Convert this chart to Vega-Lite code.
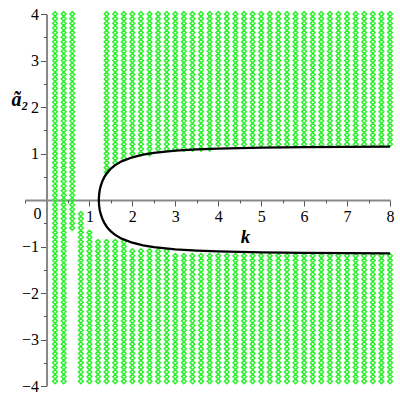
{
"$schema":"https://vega.github.io/schema/vega-lite/v6.json",
"width":365,"height":372,
"autosize":{"type":"none"},
"padding":{"left":25,"top":14,"right":10,"bottom":14},
"background":"white",
"config":{"view":{"stroke":null}},
"resolve":{"axis":{"x":"independent","y":"independent"}},
"datasets":{
"origin":[{"k":0,"a":0,"t":"0"}],
"curve":[
{"i":1,"k":8,"a":1.146},{"i":2,"k":7,"a":1.142},{"i":3,"k":6,"a":1.136},{"i":4,"k":5,"a":1.125},{"i":5,"k":4,"a":1.105},{"i":6,"k":3.5,"a":1.087},{"i":7,"k":3,"a":1.06},{"i":8,"k":2.5,"a":1.012},{"i":9,"k":2.25,"a":0.975},{"i":10,"k":2,"a":0.919},{"i":11,"k":1.75,"a":0.832},{"i":12,"k":1.6,"a":0.75},{"i":13,"k":1.5,"a":0.675},{"i":14,"k":1.45,"a":0.627},{"i":15,"k":1.4,"a":0.569},{"i":16,"k":1.35,"a":0.497},{"i":17,"k":1.3,"a":0.401},{"i":18,"k":1.27,"a":0.322},{"i":19,"k":1.25,"a":0.253},{"i":20,"k":1.24,"a":0.208},{"i":21,"k":1.23,"a":0.148},{"i":22,"k":1.225,"a":0.105},{"i":23,"k":1.222,"a":0.066},{"i":24,"k":1.2205,"a":0.033},{"i":25,"k":1.22,"a":0},
{"i":26,"k":1.2205,"a":-0.033},{"i":27,"k":1.222,"a":-0.066},{"i":28,"k":1.225,"a":-0.105},{"i":29,"k":1.23,"a":-0.148},{"i":30,"k":1.24,"a":-0.208},{"i":31,"k":1.25,"a":-0.253},{"i":32,"k":1.27,"a":-0.322},{"i":33,"k":1.3,"a":-0.401},{"i":34,"k":1.35,"a":-0.497},{"i":35,"k":1.4,"a":-0.569},{"i":36,"k":1.45,"a":-0.627},{"i":37,"k":1.5,"a":-0.675},{"i":38,"k":1.6,"a":-0.75},{"i":39,"k":1.75,"a":-0.832},{"i":40,"k":2,"a":-0.919},{"i":41,"k":2.25,"a":-0.975},{"i":42,"k":2.5,"a":-1.012},{"i":43,"k":3,"a":-1.06},{"i":44,"k":3.5,"a":-1.087},{"i":45,"k":4,"a":-1.105},{"i":46,"k":5,"a":-1.125},{"i":47,"k":6,"a":-1.136},{"i":48,"k":7,"a":-1.142},{"i":49,"k":8,"a":-1.146}
],
"pts":[
{"k":0.2,"a":4},{"k":0.2,"a":3.9},{"k":0.2,"a":3.8},{"k":0.2,"a":3.7},{"k":0.2,"a":3.6},{"k":0.2,"a":3.5},{"k":0.2,"a":3.4},{"k":0.2,"a":3.3},{"k":0.2,"a":3.2},{"k":0.2,"a":3.1},{"k":0.2,"a":3},{"k":0.2,"a":2.9},{"k":0.2,"a":2.8},{"k":0.2,"a":2.7},{"k":0.2,"a":2.6},{"k":0.2,"a":2.5},{"k":0.2,"a":2.4},{"k":0.2,"a":2.3},{"k":0.2,"a":2.2},{"k":0.2,"a":2.1},{"k":0.2,"a":2},{"k":0.2,"a":1.9},{"k":0.2,"a":1.8},{"k":0.2,"a":1.7},{"k":0.2,"a":1.6},{"k":0.2,"a":1.5},{"k":0.2,"a":1.4},{"k":0.2,"a":1.3},{"k":0.2,"a":1.2},{"k":0.2,"a":1.1},{"k":0.2,"a":1},{"k":0.2,"a":0.9},{"k":0.2,"a":0.8},{"k":0.2,"a":0.7},{"k":0.2,"a":0.6},{"k":0.2,"a":0.5},{"k":0.2,"a":0.4},{"k":0.2,"a":0.3},{"k":0.2,"a":0.2},{"k":0.2,"a":0.1},{"k":0.2,"a":0},{"k":0.2,"a":-0.1},{"k":0.2,"a":-0.2},{"k":0.2,"a":-0.3},{"k":0.2,"a":-0.4},{"k":0.2,"a":-0.5},{"k":0.2,"a":-0.6},{"k":0.2,"a":-0.7},{"k":0.2,"a":-0.8},{"k":0.2,"a":-0.9},{"k":0.2,"a":-1},{"k":0.2,"a":-1.1},{"k":0.2,"a":-1.2},{"k":0.2,"a":-1.3},{"k":0.2,"a":-1.4},{"k":0.2,"a":-1.5},{"k":0.2,"a":-1.6},{"k":0.2,"a":-1.7},{"k":0.2,"a":-1.8},{"k":0.2,"a":-1.9},{"k":0.2,"a":-2},{"k":0.2,"a":-2.1},{"k":0.2,"a":-2.2},{"k":0.2,"a":-2.3},{"k":0.2,"a":-2.4},{"k":0.2,"a":-2.5},{"k":0.2,"a":-2.6},{"k":0.2,"a":-2.7},{"k":0.2,"a":-2.8},{"k":0.2,"a":-2.9},{"k":0.2,"a":-3},{"k":0.2,"a":-3.1},{"k":0.2,"a":-3.2},{"k":0.2,"a":-3.3},{"k":0.2,"a":-3.4},{"k":0.2,"a":-3.5},{"k":0.2,"a":-3.6},{"k":0.2,"a":-3.7},{"k":0.2,"a":-3.8},
{"k":0.4,"a":4},{"k":0.4,"a":3.9},{"k":0.4,"a":3.8},{"k":0.4,"a":3.7},{"k":0.4,"a":3.6},{"k":0.4,"a":3.5},{"k":0.4,"a":3.4},{"k":0.4,"a":3.3},{"k":0.4,"a":3.2},{"k":0.4,"a":3.1},{"k":0.4,"a":3},{"k":0.4,"a":2.9},{"k":0.4,"a":2.8},{"k":0.4,"a":2.7},{"k":0.4,"a":2.6},{"k":0.4,"a":2.5},{"k":0.4,"a":2.4},{"k":0.4,"a":2.3},{"k":0.4,"a":2.2},{"k":0.4,"a":2.1},{"k":0.4,"a":2},{"k":0.4,"a":1.9},{"k":0.4,"a":1.8},{"k":0.4,"a":1.7},{"k":0.4,"a":1.6},{"k":0.4,"a":1.5},{"k":0.4,"a":1.4},{"k":0.4,"a":1.3},{"k":0.4,"a":1.2},{"k":0.4,"a":1.1},{"k":0.4,"a":1},{"k":0.4,"a":0.9},{"k":0.4,"a":0.8},{"k":0.4,"a":0.7},{"k":0.4,"a":0.6},{"k":0.4,"a":0.5},{"k":0.4,"a":0.4},{"k":0.4,"a":0.3},{"k":0.4,"a":0.2},{"k":0.4,"a":0.1},{"k":0.4,"a":0},{"k":0.4,"a":-0.1},{"k":0.4,"a":-0.2},{"k":0.4,"a":-0.3},{"k":0.4,"a":-0.4},{"k":0.4,"a":-0.5},{"k":0.4,"a":-0.6},{"k":0.4,"a":-0.7},{"k":0.4,"a":-0.8},{"k":0.4,"a":-0.9},{"k":0.4,"a":-1},{"k":0.4,"a":-1.1},{"k":0.4,"a":-1.2},{"k":0.4,"a":-1.3},{"k":0.4,"a":-1.4},{"k":0.4,"a":-1.5},{"k":0.4,"a":-1.6},{"k":0.4,"a":-1.7},{"k":0.4,"a":-1.8},{"k":0.4,"a":-1.9},{"k":0.4,"a":-2},{"k":0.4,"a":-2.1},{"k":0.4,"a":-2.2},{"k":0.4,"a":-2.3},{"k":0.4,"a":-2.4},{"k":0.4,"a":-2.5},{"k":0.4,"a":-2.6},{"k":0.4,"a":-2.7},{"k":0.4,"a":-2.8},{"k":0.4,"a":-2.9},{"k":0.4,"a":-3},{"k":0.4,"a":-3.1},{"k":0.4,"a":-3.2},{"k":0.4,"a":-3.3},{"k":0.4,"a":-3.4},{"k":0.4,"a":-3.5},{"k":0.4,"a":-3.6},{"k":0.4,"a":-3.7},{"k":0.4,"a":-3.8},
{"k":0.6,"a":4},{"k":0.6,"a":3.9},{"k":0.6,"a":3.8},{"k":0.6,"a":3.7},{"k":0.6,"a":3.6},{"k":0.6,"a":3.5},{"k":0.6,"a":3.4},{"k":0.6,"a":3.3},{"k":0.6,"a":3.2},{"k":0.6,"a":3.1},{"k":0.6,"a":3},{"k":0.6,"a":2.9},{"k":0.6,"a":2.8},{"k":0.6,"a":2.7},{"k":0.6,"a":2.6},{"k":0.6,"a":2.5},{"k":0.6,"a":2.4},{"k":0.6,"a":2.3},{"k":0.6,"a":2.2},{"k":0.6,"a":2.1},{"k":0.6,"a":2},{"k":0.6,"a":1.9},{"k":0.6,"a":1.8},{"k":0.6,"a":1.7},{"k":0.6,"a":1.6},{"k":0.6,"a":1.5},{"k":0.6,"a":1.4},{"k":0.6,"a":1.3},{"k":0.6,"a":1.2},{"k":0.6,"a":1.1},{"k":0.6,"a":1},{"k":0.6,"a":0.9},{"k":0.6,"a":0.8},{"k":0.6,"a":0.7},{"k":0.6,"a":0.6},{"k":0.6,"a":0.5},{"k":0.6,"a":0.4},{"k":0.6,"a":0.3},{"k":0.6,"a":0.2},{"k":0.6,"a":0.1},{"k":0.6,"a":0},{"k":0.6,"a":-0.1},{"k":0.6,"a":-0.2},{"k":0.6,"a":-0.3},{"k":0.6,"a":-0.4},{"k":0.6,"a":-0.5},{"k":0.6,"a":-0.6},
{"k":0.8,"a":-0.3},{"k":0.8,"a":-0.4},{"k":0.8,"a":-0.5},{"k":0.8,"a":-0.6},{"k":0.8,"a":-0.7},{"k":0.8,"a":-0.8},{"k":0.8,"a":-0.9},{"k":0.8,"a":-1},{"k":0.8,"a":-1.1},{"k":0.8,"a":-1.2},{"k":0.8,"a":-1.3},{"k":0.8,"a":-1.4},{"k":0.8,"a":-1.5},{"k":0.8,"a":-1.6},{"k":0.8,"a":-1.7},{"k":0.8,"a":-1.8},{"k":0.8,"a":-1.9},{"k":0.8,"a":-2},{"k":0.8,"a":-2.1},{"k":0.8,"a":-2.2},{"k":0.8,"a":-2.3},{"k":0.8,"a":-2.4},{"k":0.8,"a":-2.5},{"k":0.8,"a":-2.6},{"k":0.8,"a":-2.7},{"k":0.8,"a":-2.8},{"k":0.8,"a":-2.9},{"k":0.8,"a":-3},{"k":0.8,"a":-3.1},{"k":0.8,"a":-3.2},{"k":0.8,"a":-3.3},{"k":0.8,"a":-3.4},{"k":0.8,"a":-3.5},{"k":0.8,"a":-3.6},{"k":0.8,"a":-3.7},{"k":0.8,"a":-3.8},
{"k":1,"a":-0.7},{"k":1,"a":-0.8},{"k":1,"a":-0.9},{"k":1,"a":-1},{"k":1,"a":-1.1},{"k":1,"a":-1.2},{"k":1,"a":-1.3},{"k":1,"a":-1.4},{"k":1,"a":-1.5},{"k":1,"a":-1.6},{"k":1,"a":-1.7},{"k":1,"a":-1.8},{"k":1,"a":-1.9},{"k":1,"a":-2},{"k":1,"a":-2.1},{"k":1,"a":-2.2},{"k":1,"a":-2.3},{"k":1,"a":-2.4},{"k":1,"a":-2.5},{"k":1,"a":-2.6},{"k":1,"a":-2.7},{"k":1,"a":-2.8},{"k":1,"a":-2.9},{"k":1,"a":-3},{"k":1,"a":-3.1},{"k":1,"a":-3.2},{"k":1,"a":-3.3},{"k":1,"a":-3.4},{"k":1,"a":-3.5},{"k":1,"a":-3.6},{"k":1,"a":-3.7},{"k":1,"a":-3.8},
{"k":1.2,"a":-0.9},{"k":1.2,"a":-1},{"k":1.2,"a":-1.1},{"k":1.2,"a":-1.2},{"k":1.2,"a":-1.3},{"k":1.2,"a":-1.4},{"k":1.2,"a":-1.5},{"k":1.2,"a":-1.6},{"k":1.2,"a":-1.7},{"k":1.2,"a":-1.8},{"k":1.2,"a":-1.9},{"k":1.2,"a":-2},{"k":1.2,"a":-2.1},{"k":1.2,"a":-2.2},{"k":1.2,"a":-2.3},{"k":1.2,"a":-2.4},{"k":1.2,"a":-2.5},{"k":1.2,"a":-2.6},{"k":1.2,"a":-2.7},{"k":1.2,"a":-2.8},{"k":1.2,"a":-2.9},{"k":1.2,"a":-3},{"k":1.2,"a":-3.1},{"k":1.2,"a":-3.2},{"k":1.2,"a":-3.3},{"k":1.2,"a":-3.4},{"k":1.2,"a":-3.5},{"k":1.2,"a":-3.6},{"k":1.2,"a":-3.7},{"k":1.2,"a":-3.8},
{"k":1.4,"a":4},{"k":1.4,"a":3.9},{"k":1.4,"a":3.8},{"k":1.4,"a":3.7},{"k":1.4,"a":3.6},{"k":1.4,"a":3.5},{"k":1.4,"a":3.4},{"k":1.4,"a":3.3},{"k":1.4,"a":3.2},{"k":1.4,"a":3.1},{"k":1.4,"a":3},{"k":1.4,"a":2.9},{"k":1.4,"a":2.8},{"k":1.4,"a":2.7},{"k":1.4,"a":2.6},{"k":1.4,"a":2.5},{"k":1.4,"a":2.4},{"k":1.4,"a":2.3},{"k":1.4,"a":2.2},{"k":1.4,"a":2.1},{"k":1.4,"a":2},{"k":1.4,"a":1.9},{"k":1.4,"a":1.8},{"k":1.4,"a":1.7},{"k":1.4,"a":1.6},{"k":1.4,"a":1.5},{"k":1.4,"a":1.4},{"k":1.4,"a":1.3},{"k":1.4,"a":1.2},{"k":1.4,"a":1.1},{"k":1.4,"a":1},{"k":1.4,"a":0.9},{"k":1.4,"a":0.8},{"k":1.4,"a":0.7},{"k":1.4,"a":0.6},{"k":1.4,"a":-0.9},{"k":1.4,"a":-1},{"k":1.4,"a":-1.1},{"k":1.4,"a":-1.2},{"k":1.4,"a":-1.3},{"k":1.4,"a":-1.4},{"k":1.4,"a":-1.5},{"k":1.4,"a":-1.6},{"k":1.4,"a":-1.7},{"k":1.4,"a":-1.8},{"k":1.4,"a":-1.9},{"k":1.4,"a":-2},{"k":1.4,"a":-2.1},{"k":1.4,"a":-2.2},{"k":1.4,"a":-2.3},{"k":1.4,"a":-2.4},{"k":1.4,"a":-2.5},{"k":1.4,"a":-2.6},{"k":1.4,"a":-2.7},{"k":1.4,"a":-2.8},{"k":1.4,"a":-2.9},{"k":1.4,"a":-3},{"k":1.4,"a":-3.1},{"k":1.4,"a":-3.2},{"k":1.4,"a":-3.3},{"k":1.4,"a":-3.4},{"k":1.4,"a":-3.5},{"k":1.4,"a":-3.6},{"k":1.4,"a":-3.7},{"k":1.4,"a":-3.8},
{"k":1.6,"a":4},{"k":1.6,"a":3.9},{"k":1.6,"a":3.8},{"k":1.6,"a":3.7},{"k":1.6,"a":3.6},{"k":1.6,"a":3.5},{"k":1.6,"a":3.4},{"k":1.6,"a":3.3},{"k":1.6,"a":3.2},{"k":1.6,"a":3.1},{"k":1.6,"a":3},{"k":1.6,"a":2.9},{"k":1.6,"a":2.8},{"k":1.6,"a":2.7},{"k":1.6,"a":2.6},{"k":1.6,"a":2.5},{"k":1.6,"a":2.4},{"k":1.6,"a":2.3},{"k":1.6,"a":2.2},{"k":1.6,"a":2.1},{"k":1.6,"a":2},{"k":1.6,"a":1.9},{"k":1.6,"a":1.8},{"k":1.6,"a":1.7},{"k":1.6,"a":1.6},{"k":1.6,"a":1.5},{"k":1.6,"a":1.4},{"k":1.6,"a":1.3},{"k":1.6,"a":1.2},{"k":1.6,"a":1.1},{"k":1.6,"a":1},{"k":1.6,"a":0.9},{"k":1.6,"a":0.8},{"k":1.6,"a":-0.9},{"k":1.6,"a":-1},{"k":1.6,"a":-1.1},{"k":1.6,"a":-1.2},{"k":1.6,"a":-1.3},{"k":1.6,"a":-1.4},{"k":1.6,"a":-1.5},{"k":1.6,"a":-1.6},{"k":1.6,"a":-1.7},{"k":1.6,"a":-1.8},{"k":1.6,"a":-1.9},{"k":1.6,"a":-2},{"k":1.6,"a":-2.1},{"k":1.6,"a":-2.2},{"k":1.6,"a":-2.3},{"k":1.6,"a":-2.4},{"k":1.6,"a":-2.5},{"k":1.6,"a":-2.6},{"k":1.6,"a":-2.7},{"k":1.6,"a":-2.8},{"k":1.6,"a":-2.9},{"k":1.6,"a":-3},{"k":1.6,"a":-3.1},{"k":1.6,"a":-3.2},{"k":1.6,"a":-3.3},{"k":1.6,"a":-3.4},{"k":1.6,"a":-3.5},{"k":1.6,"a":-3.6},{"k":1.6,"a":-3.7},{"k":1.6,"a":-3.8},
{"k":1.8,"a":4},{"k":1.8,"a":3.9},{"k":1.8,"a":3.8},{"k":1.8,"a":3.7},{"k":1.8,"a":3.6},{"k":1.8,"a":3.5},{"k":1.8,"a":3.4},{"k":1.8,"a":3.3},{"k":1.8,"a":3.2},{"k":1.8,"a":3.1},{"k":1.8,"a":3},{"k":1.8,"a":2.9},{"k":1.8,"a":2.8},{"k":1.8,"a":2.7},{"k":1.8,"a":2.6},{"k":1.8,"a":2.5},{"k":1.8,"a":2.4},{"k":1.8,"a":2.3},{"k":1.8,"a":2.2},{"k":1.8,"a":2.1},{"k":1.8,"a":2},{"k":1.8,"a":1.9},{"k":1.8,"a":1.8},{"k":1.8,"a":1.7},{"k":1.8,"a":1.6},{"k":1.8,"a":1.5},{"k":1.8,"a":1.4},{"k":1.8,"a":1.3},{"k":1.8,"a":1.2},{"k":1.8,"a":1.1},{"k":1.8,"a":1},{"k":1.8,"a":0.9},{"k":1.8,"a":-0.9},{"k":1.8,"a":-1},{"k":1.8,"a":-1.1},{"k":1.8,"a":-1.2},{"k":1.8,"a":-1.3},{"k":1.8,"a":-1.4},{"k":1.8,"a":-1.5},{"k":1.8,"a":-1.6},{"k":1.8,"a":-1.7},{"k":1.8,"a":-1.8},{"k":1.8,"a":-1.9},{"k":1.8,"a":-2},{"k":1.8,"a":-2.1},{"k":1.8,"a":-2.2},{"k":1.8,"a":-2.3},{"k":1.8,"a":-2.4},{"k":1.8,"a":-2.5},{"k":1.8,"a":-2.6},{"k":1.8,"a":-2.7},{"k":1.8,"a":-2.8},{"k":1.8,"a":-2.9},{"k":1.8,"a":-3},{"k":1.8,"a":-3.1},{"k":1.8,"a":-3.2},{"k":1.8,"a":-3.3},{"k":1.8,"a":-3.4},{"k":1.8,"a":-3.5},{"k":1.8,"a":-3.6},{"k":1.8,"a":-3.7},{"k":1.8,"a":-3.8},
{"k":2,"a":4},{"k":2,"a":3.9},{"k":2,"a":3.8},{"k":2,"a":3.7},{"k":2,"a":3.6},{"k":2,"a":3.5},{"k":2,"a":3.4},{"k":2,"a":3.3},{"k":2,"a":3.2},{"k":2,"a":3.1},{"k":2,"a":3},{"k":2,"a":2.9},{"k":2,"a":2.8},{"k":2,"a":2.7},{"k":2,"a":2.6},{"k":2,"a":2.5},{"k":2,"a":2.4},{"k":2,"a":2.3},{"k":2,"a":2.2},{"k":2,"a":2.1},{"k":2,"a":2},{"k":2,"a":1.9},{"k":2,"a":1.8},{"k":2,"a":1.7},{"k":2,"a":1.6},{"k":2,"a":1.5},{"k":2,"a":1.4},{"k":2,"a":1.3},{"k":2,"a":1.2},{"k":2,"a":1.1},{"k":2,"a":1},{"k":2,"a":-1.1},{"k":2,"a":-1.2},{"k":2,"a":-1.3},{"k":2,"a":-1.4},{"k":2,"a":-1.5},{"k":2,"a":-1.6},{"k":2,"a":-1.7},{"k":2,"a":-1.8},{"k":2,"a":-1.9},{"k":2,"a":-2},{"k":2,"a":-2.1},{"k":2,"a":-2.2},{"k":2,"a":-2.3},{"k":2,"a":-2.4},{"k":2,"a":-2.5},{"k":2,"a":-2.6},{"k":2,"a":-2.7},{"k":2,"a":-2.8},{"k":2,"a":-2.9},{"k":2,"a":-3},{"k":2,"a":-3.1},{"k":2,"a":-3.2},{"k":2,"a":-3.3},{"k":2,"a":-3.4},{"k":2,"a":-3.5},{"k":2,"a":-3.6},{"k":2,"a":-3.7},{"k":2,"a":-3.8},
{"k":2.2,"a":4},{"k":2.2,"a":3.9},{"k":2.2,"a":3.8},{"k":2.2,"a":3.7},{"k":2.2,"a":3.6},{"k":2.2,"a":3.5},{"k":2.2,"a":3.4},{"k":2.2,"a":3.3},{"k":2.2,"a":3.2},{"k":2.2,"a":3.1},{"k":2.2,"a":3},{"k":2.2,"a":2.9},{"k":2.2,"a":2.8},{"k":2.2,"a":2.7},{"k":2.2,"a":2.6},{"k":2.2,"a":2.5},{"k":2.2,"a":2.4},{"k":2.2,"a":2.3},{"k":2.2,"a":2.2},{"k":2.2,"a":2.1},{"k":2.2,"a":2},{"k":2.2,"a":1.9},{"k":2.2,"a":1.8},{"k":2.2,"a":1.7},{"k":2.2,"a":1.6},{"k":2.2,"a":1.5},{"k":2.2,"a":1.4},{"k":2.2,"a":1.3},{"k":2.2,"a":1.2},{"k":2.2,"a":1.1},{"k":2.2,"a":1},{"k":2.2,"a":-1.1},{"k":2.2,"a":-1.2},{"k":2.2,"a":-1.3},{"k":2.2,"a":-1.4},{"k":2.2,"a":-1.5},{"k":2.2,"a":-1.6},{"k":2.2,"a":-1.7},{"k":2.2,"a":-1.8},{"k":2.2,"a":-1.9},{"k":2.2,"a":-2},{"k":2.2,"a":-2.1},{"k":2.2,"a":-2.2},{"k":2.2,"a":-2.3},{"k":2.2,"a":-2.4},{"k":2.2,"a":-2.5},{"k":2.2,"a":-2.6},{"k":2.2,"a":-2.7},{"k":2.2,"a":-2.8},{"k":2.2,"a":-2.9},{"k":2.2,"a":-3},{"k":2.2,"a":-3.1},{"k":2.2,"a":-3.2},{"k":2.2,"a":-3.3},{"k":2.2,"a":-3.4},{"k":2.2,"a":-3.5},{"k":2.2,"a":-3.6},{"k":2.2,"a":-3.7},{"k":2.2,"a":-3.8},
{"k":2.4,"a":4},{"k":2.4,"a":3.9},{"k":2.4,"a":3.8},{"k":2.4,"a":3.7},{"k":2.4,"a":3.6},{"k":2.4,"a":3.5},{"k":2.4,"a":3.4},{"k":2.4,"a":3.3},{"k":2.4,"a":3.2},{"k":2.4,"a":3.1},{"k":2.4,"a":3},{"k":2.4,"a":2.9},{"k":2.4,"a":2.8},{"k":2.4,"a":2.7},{"k":2.4,"a":2.6},{"k":2.4,"a":2.5},{"k":2.4,"a":2.4},{"k":2.4,"a":2.3},{"k":2.4,"a":2.2},{"k":2.4,"a":2.1},{"k":2.4,"a":2},{"k":2.4,"a":1.9},{"k":2.4,"a":1.8},{"k":2.4,"a":1.7},{"k":2.4,"a":1.6},{"k":2.4,"a":1.5},{"k":2.4,"a":1.4},{"k":2.4,"a":1.3},{"k":2.4,"a":1.2},{"k":2.4,"a":1.1},{"k":2.4,"a":1},{"k":2.4,"a":-1.1},{"k":2.4,"a":-1.2},{"k":2.4,"a":-1.3},{"k":2.4,"a":-1.4},{"k":2.4,"a":-1.5},{"k":2.4,"a":-1.6},{"k":2.4,"a":-1.7},{"k":2.4,"a":-1.8},{"k":2.4,"a":-1.9},{"k":2.4,"a":-2},{"k":2.4,"a":-2.1},{"k":2.4,"a":-2.2},{"k":2.4,"a":-2.3},{"k":2.4,"a":-2.4},{"k":2.4,"a":-2.5},{"k":2.4,"a":-2.6},{"k":2.4,"a":-2.7},{"k":2.4,"a":-2.8},{"k":2.4,"a":-2.9},{"k":2.4,"a":-3},{"k":2.4,"a":-3.1},{"k":2.4,"a":-3.2},{"k":2.4,"a":-3.3},{"k":2.4,"a":-3.4},{"k":2.4,"a":-3.5},{"k":2.4,"a":-3.6},{"k":2.4,"a":-3.7},{"k":2.4,"a":-3.8},
{"k":2.6,"a":4},{"k":2.6,"a":3.9},{"k":2.6,"a":3.8},{"k":2.6,"a":3.7},{"k":2.6,"a":3.6},{"k":2.6,"a":3.5},{"k":2.6,"a":3.4},{"k":2.6,"a":3.3},{"k":2.6,"a":3.2},{"k":2.6,"a":3.1},{"k":2.6,"a":3},{"k":2.6,"a":2.9},{"k":2.6,"a":2.8},{"k":2.6,"a":2.7},{"k":2.6,"a":2.6},{"k":2.6,"a":2.5},{"k":2.6,"a":2.4},{"k":2.6,"a":2.3},{"k":2.6,"a":2.2},{"k":2.6,"a":2.1},{"k":2.6,"a":2},{"k":2.6,"a":1.9},{"k":2.6,"a":1.8},{"k":2.6,"a":1.7},{"k":2.6,"a":1.6},{"k":2.6,"a":1.5},{"k":2.6,"a":1.4},{"k":2.6,"a":1.3},{"k":2.6,"a":1.2},{"k":2.6,"a":1.1},{"k":2.6,"a":-1.1},{"k":2.6,"a":-1.2},{"k":2.6,"a":-1.3},{"k":2.6,"a":-1.4},{"k":2.6,"a":-1.5},{"k":2.6,"a":-1.6},{"k":2.6,"a":-1.7},{"k":2.6,"a":-1.8},{"k":2.6,"a":-1.9},{"k":2.6,"a":-2},{"k":2.6,"a":-2.1},{"k":2.6,"a":-2.2},{"k":2.6,"a":-2.3},{"k":2.6,"a":-2.4},{"k":2.6,"a":-2.5},{"k":2.6,"a":-2.6},{"k":2.6,"a":-2.7},{"k":2.6,"a":-2.8},{"k":2.6,"a":-2.9},{"k":2.6,"a":-3},{"k":2.6,"a":-3.1},{"k":2.6,"a":-3.2},{"k":2.6,"a":-3.3},{"k":2.6,"a":-3.4},{"k":2.6,"a":-3.5},{"k":2.6,"a":-3.6},{"k":2.6,"a":-3.7},{"k":2.6,"a":-3.8},
{"k":2.8,"a":4},{"k":2.8,"a":3.9},{"k":2.8,"a":3.8},{"k":2.8,"a":3.7},{"k":2.8,"a":3.6},{"k":2.8,"a":3.5},{"k":2.8,"a":3.4},{"k":2.8,"a":3.3},{"k":2.8,"a":3.2},{"k":2.8,"a":3.1},{"k":2.8,"a":3},{"k":2.8,"a":2.9},{"k":2.8,"a":2.8},{"k":2.8,"a":2.7},{"k":2.8,"a":2.6},{"k":2.8,"a":2.5},{"k":2.8,"a":2.4},{"k":2.8,"a":2.3},{"k":2.8,"a":2.2},{"k":2.8,"a":2.1},{"k":2.8,"a":2},{"k":2.8,"a":1.9},{"k":2.8,"a":1.8},{"k":2.8,"a":1.7},{"k":2.8,"a":1.6},{"k":2.8,"a":1.5},{"k":2.8,"a":1.4},{"k":2.8,"a":1.3},{"k":2.8,"a":1.2},{"k":2.8,"a":1.1},{"k":2.8,"a":-1.1},{"k":2.8,"a":-1.2},{"k":2.8,"a":-1.3},{"k":2.8,"a":-1.4},{"k":2.8,"a":-1.5},{"k":2.8,"a":-1.6},{"k":2.8,"a":-1.7},{"k":2.8,"a":-1.8},{"k":2.8,"a":-1.9},{"k":2.8,"a":-2},{"k":2.8,"a":-2.1},{"k":2.8,"a":-2.2},{"k":2.8,"a":-2.3},{"k":2.8,"a":-2.4},{"k":2.8,"a":-2.5},{"k":2.8,"a":-2.6},{"k":2.8,"a":-2.7},{"k":2.8,"a":-2.8},{"k":2.8,"a":-2.9},{"k":2.8,"a":-3},{"k":2.8,"a":-3.1},{"k":2.8,"a":-3.2},{"k":2.8,"a":-3.3},{"k":2.8,"a":-3.4},{"k":2.8,"a":-3.5},{"k":2.8,"a":-3.6},{"k":2.8,"a":-3.7},{"k":2.8,"a":-3.8},
{"k":3,"a":4},{"k":3,"a":3.9},{"k":3,"a":3.8},{"k":3,"a":3.7},{"k":3,"a":3.6},{"k":3,"a":3.5},{"k":3,"a":3.4},{"k":3,"a":3.3},{"k":3,"a":3.2},{"k":3,"a":3.1},{"k":3,"a":3},{"k":3,"a":2.9},{"k":3,"a":2.8},{"k":3,"a":2.7},{"k":3,"a":2.6},{"k":3,"a":2.5},{"k":3,"a":2.4},{"k":3,"a":2.3},{"k":3,"a":2.2},{"k":3,"a":2.1},{"k":3,"a":2},{"k":3,"a":1.9},{"k":3,"a":1.8},{"k":3,"a":1.7},{"k":3,"a":1.6},{"k":3,"a":1.5},{"k":3,"a":1.4},{"k":3,"a":1.3},{"k":3,"a":1.2},{"k":3,"a":1.1},{"k":3,"a":-1.2},{"k":3,"a":-1.3},{"k":3,"a":-1.4},{"k":3,"a":-1.5},{"k":3,"a":-1.6},{"k":3,"a":-1.7},{"k":3,"a":-1.8},{"k":3,"a":-1.9},{"k":3,"a":-2},{"k":3,"a":-2.1},{"k":3,"a":-2.2},{"k":3,"a":-2.3},{"k":3,"a":-2.4},{"k":3,"a":-2.5},{"k":3,"a":-2.6},{"k":3,"a":-2.7},{"k":3,"a":-2.8},{"k":3,"a":-2.9},{"k":3,"a":-3},{"k":3,"a":-3.1},{"k":3,"a":-3.2},{"k":3,"a":-3.3},{"k":3,"a":-3.4},{"k":3,"a":-3.5},{"k":3,"a":-3.6},{"k":3,"a":-3.7},{"k":3,"a":-3.8},
{"k":3.2,"a":4},{"k":3.2,"a":3.9},{"k":3.2,"a":3.8},{"k":3.2,"a":3.7},{"k":3.2,"a":3.6},{"k":3.2,"a":3.5},{"k":3.2,"a":3.4},{"k":3.2,"a":3.3},{"k":3.2,"a":3.2},{"k":3.2,"a":3.1},{"k":3.2,"a":3},{"k":3.2,"a":2.9},{"k":3.2,"a":2.8},{"k":3.2,"a":2.7},{"k":3.2,"a":2.6},{"k":3.2,"a":2.5},{"k":3.2,"a":2.4},{"k":3.2,"a":2.3},{"k":3.2,"a":2.2},{"k":3.2,"a":2.1},{"k":3.2,"a":2},{"k":3.2,"a":1.9},{"k":3.2,"a":1.8},{"k":3.2,"a":1.7},{"k":3.2,"a":1.6},{"k":3.2,"a":1.5},{"k":3.2,"a":1.4},{"k":3.2,"a":1.3},{"k":3.2,"a":1.2},{"k":3.2,"a":1.1},{"k":3.2,"a":-1.2},{"k":3.2,"a":-1.3},{"k":3.2,"a":-1.4},{"k":3.2,"a":-1.5},{"k":3.2,"a":-1.6},{"k":3.2,"a":-1.7},{"k":3.2,"a":-1.8},{"k":3.2,"a":-1.9},{"k":3.2,"a":-2},{"k":3.2,"a":-2.1},{"k":3.2,"a":-2.2},{"k":3.2,"a":-2.3},{"k":3.2,"a":-2.4},{"k":3.2,"a":-2.5},{"k":3.2,"a":-2.6},{"k":3.2,"a":-2.7},{"k":3.2,"a":-2.8},{"k":3.2,"a":-2.9},{"k":3.2,"a":-3},{"k":3.2,"a":-3.1},{"k":3.2,"a":-3.2},{"k":3.2,"a":-3.3},{"k":3.2,"a":-3.4},{"k":3.2,"a":-3.5},{"k":3.2,"a":-3.6},{"k":3.2,"a":-3.7},{"k":3.2,"a":-3.8},
{"k":3.4,"a":4},{"k":3.4,"a":3.9},{"k":3.4,"a":3.8},{"k":3.4,"a":3.7},{"k":3.4,"a":3.6},{"k":3.4,"a":3.5},{"k":3.4,"a":3.4},{"k":3.4,"a":3.3},{"k":3.4,"a":3.2},{"k":3.4,"a":3.1},{"k":3.4,"a":3},{"k":3.4,"a":2.9},{"k":3.4,"a":2.8},{"k":3.4,"a":2.7},{"k":3.4,"a":2.6},{"k":3.4,"a":2.5},{"k":3.4,"a":2.4},{"k":3.4,"a":2.3},{"k":3.4,"a":2.2},{"k":3.4,"a":2.1},{"k":3.4,"a":2},{"k":3.4,"a":1.9},{"k":3.4,"a":1.8},{"k":3.4,"a":1.7},{"k":3.4,"a":1.6},{"k":3.4,"a":1.5},{"k":3.4,"a":1.4},{"k":3.4,"a":1.3},{"k":3.4,"a":1.2},{"k":3.4,"a":1.1},{"k":3.4,"a":-1.2},{"k":3.4,"a":-1.3},{"k":3.4,"a":-1.4},{"k":3.4,"a":-1.5},{"k":3.4,"a":-1.6},{"k":3.4,"a":-1.7},{"k":3.4,"a":-1.8},{"k":3.4,"a":-1.9},{"k":3.4,"a":-2},{"k":3.4,"a":-2.1},{"k":3.4,"a":-2.2},{"k":3.4,"a":-2.3},{"k":3.4,"a":-2.4},{"k":3.4,"a":-2.5},{"k":3.4,"a":-2.6},{"k":3.4,"a":-2.7},{"k":3.4,"a":-2.8},{"k":3.4,"a":-2.9},{"k":3.4,"a":-3},{"k":3.4,"a":-3.1},{"k":3.4,"a":-3.2},{"k":3.4,"a":-3.3},{"k":3.4,"a":-3.4},{"k":3.4,"a":-3.5},{"k":3.4,"a":-3.6},{"k":3.4,"a":-3.7},{"k":3.4,"a":-3.8},
{"k":3.6,"a":4},{"k":3.6,"a":3.9},{"k":3.6,"a":3.8},{"k":3.6,"a":3.7},{"k":3.6,"a":3.6},{"k":3.6,"a":3.5},{"k":3.6,"a":3.4},{"k":3.6,"a":3.3},{"k":3.6,"a":3.2},{"k":3.6,"a":3.1},{"k":3.6,"a":3},{"k":3.6,"a":2.9},{"k":3.6,"a":2.8},{"k":3.6,"a":2.7},{"k":3.6,"a":2.6},{"k":3.6,"a":2.5},{"k":3.6,"a":2.4},{"k":3.6,"a":2.3},{"k":3.6,"a":2.2},{"k":3.6,"a":2.1},{"k":3.6,"a":2},{"k":3.6,"a":1.9},{"k":3.6,"a":1.8},{"k":3.6,"a":1.7},{"k":3.6,"a":1.6},{"k":3.6,"a":1.5},{"k":3.6,"a":1.4},{"k":3.6,"a":1.3},{"k":3.6,"a":1.2},{"k":3.6,"a":1.1},{"k":3.6,"a":-1.2},{"k":3.6,"a":-1.3},{"k":3.6,"a":-1.4},{"k":3.6,"a":-1.5},{"k":3.6,"a":-1.6},{"k":3.6,"a":-1.7},{"k":3.6,"a":-1.8},{"k":3.6,"a":-1.9},{"k":3.6,"a":-2},{"k":3.6,"a":-2.1},{"k":3.6,"a":-2.2},{"k":3.6,"a":-2.3},{"k":3.6,"a":-2.4},{"k":3.6,"a":-2.5},{"k":3.6,"a":-2.6},{"k":3.6,"a":-2.7},{"k":3.6,"a":-2.8},{"k":3.6,"a":-2.9},{"k":3.6,"a":-3},{"k":3.6,"a":-3.1},{"k":3.6,"a":-3.2},{"k":3.6,"a":-3.3},{"k":3.6,"a":-3.4},{"k":3.6,"a":-3.5},{"k":3.6,"a":-3.6},{"k":3.6,"a":-3.7},{"k":3.6,"a":-3.8},
{"k":3.8,"a":4},{"k":3.8,"a":3.9},{"k":3.8,"a":3.8},{"k":3.8,"a":3.7},{"k":3.8,"a":3.6},{"k":3.8,"a":3.5},{"k":3.8,"a":3.4},{"k":3.8,"a":3.3},{"k":3.8,"a":3.2},{"k":3.8,"a":3.1},{"k":3.8,"a":3},{"k":3.8,"a":2.9},{"k":3.8,"a":2.8},{"k":3.8,"a":2.7},{"k":3.8,"a":2.6},{"k":3.8,"a":2.5},{"k":3.8,"a":2.4},{"k":3.8,"a":2.3},{"k":3.8,"a":2.2},{"k":3.8,"a":2.1},{"k":3.8,"a":2},{"k":3.8,"a":1.9},{"k":3.8,"a":1.8},{"k":3.8,"a":1.7},{"k":3.8,"a":1.6},{"k":3.8,"a":1.5},{"k":3.8,"a":1.4},{"k":3.8,"a":1.3},{"k":3.8,"a":1.2},{"k":3.8,"a":1.1},{"k":3.8,"a":-1.2},{"k":3.8,"a":-1.3},{"k":3.8,"a":-1.4},{"k":3.8,"a":-1.5},{"k":3.8,"a":-1.6},{"k":3.8,"a":-1.7},{"k":3.8,"a":-1.8},{"k":3.8,"a":-1.9},{"k":3.8,"a":-2},{"k":3.8,"a":-2.1},{"k":3.8,"a":-2.2},{"k":3.8,"a":-2.3},{"k":3.8,"a":-2.4},{"k":3.8,"a":-2.5},{"k":3.8,"a":-2.6},{"k":3.8,"a":-2.7},{"k":3.8,"a":-2.8},{"k":3.8,"a":-2.9},{"k":3.8,"a":-3},{"k":3.8,"a":-3.1},{"k":3.8,"a":-3.2},{"k":3.8,"a":-3.3},{"k":3.8,"a":-3.4},{"k":3.8,"a":-3.5},{"k":3.8,"a":-3.6},{"k":3.8,"a":-3.7},{"k":3.8,"a":-3.8},
{"k":4,"a":4},{"k":4,"a":3.9},{"k":4,"a":3.8},{"k":4,"a":3.7},{"k":4,"a":3.6},{"k":4,"a":3.5},{"k":4,"a":3.4},{"k":4,"a":3.3},{"k":4,"a":3.2},{"k":4,"a":3.1},{"k":4,"a":3},{"k":4,"a":2.9},{"k":4,"a":2.8},{"k":4,"a":2.7},{"k":4,"a":2.6},{"k":4,"a":2.5},{"k":4,"a":2.4},{"k":4,"a":2.3},{"k":4,"a":2.2},{"k":4,"a":2.1},{"k":4,"a":2},{"k":4,"a":1.9},{"k":4,"a":1.8},{"k":4,"a":1.7},{"k":4,"a":1.6},{"k":4,"a":1.5},{"k":4,"a":1.4},{"k":4,"a":1.3},{"k":4,"a":1.2},{"k":4,"a":-1.2},{"k":4,"a":-1.3},{"k":4,"a":-1.4},{"k":4,"a":-1.5},{"k":4,"a":-1.6},{"k":4,"a":-1.7},{"k":4,"a":-1.8},{"k":4,"a":-1.9},{"k":4,"a":-2},{"k":4,"a":-2.1},{"k":4,"a":-2.2},{"k":4,"a":-2.3},{"k":4,"a":-2.4},{"k":4,"a":-2.5},{"k":4,"a":-2.6},{"k":4,"a":-2.7},{"k":4,"a":-2.8},{"k":4,"a":-2.9},{"k":4,"a":-3},{"k":4,"a":-3.1},{"k":4,"a":-3.2},{"k":4,"a":-3.3},{"k":4,"a":-3.4},{"k":4,"a":-3.5},{"k":4,"a":-3.6},{"k":4,"a":-3.7},{"k":4,"a":-3.8},
{"k":4.2,"a":4},{"k":4.2,"a":3.9},{"k":4.2,"a":3.8},{"k":4.2,"a":3.7},{"k":4.2,"a":3.6},{"k":4.2,"a":3.5},{"k":4.2,"a":3.4},{"k":4.2,"a":3.3},{"k":4.2,"a":3.2},{"k":4.2,"a":3.1},{"k":4.2,"a":3},{"k":4.2,"a":2.9},{"k":4.2,"a":2.8},{"k":4.2,"a":2.7},{"k":4.2,"a":2.6},{"k":4.2,"a":2.5},{"k":4.2,"a":2.4},{"k":4.2,"a":2.3},{"k":4.2,"a":2.2},{"k":4.2,"a":2.1},{"k":4.2,"a":2},{"k":4.2,"a":1.9},{"k":4.2,"a":1.8},{"k":4.2,"a":1.7},{"k":4.2,"a":1.6},{"k":4.2,"a":1.5},{"k":4.2,"a":1.4},{"k":4.2,"a":1.3},{"k":4.2,"a":1.2},{"k":4.2,"a":-1.2},{"k":4.2,"a":-1.3},{"k":4.2,"a":-1.4},{"k":4.2,"a":-1.5},{"k":4.2,"a":-1.6},{"k":4.2,"a":-1.7},{"k":4.2,"a":-1.8},{"k":4.2,"a":-1.9},{"k":4.2,"a":-2},{"k":4.2,"a":-2.1},{"k":4.2,"a":-2.2},{"k":4.2,"a":-2.3},{"k":4.2,"a":-2.4},{"k":4.2,"a":-2.5},{"k":4.2,"a":-2.6},{"k":4.2,"a":-2.7},{"k":4.2,"a":-2.8},{"k":4.2,"a":-2.9},{"k":4.2,"a":-3},{"k":4.2,"a":-3.1},{"k":4.2,"a":-3.2},{"k":4.2,"a":-3.3},{"k":4.2,"a":-3.4},{"k":4.2,"a":-3.5},{"k":4.2,"a":-3.6},{"k":4.2,"a":-3.7},{"k":4.2,"a":-3.8},
{"k":4.4,"a":4},{"k":4.4,"a":3.9},{"k":4.4,"a":3.8},{"k":4.4,"a":3.7},{"k":4.4,"a":3.6},{"k":4.4,"a":3.5},{"k":4.4,"a":3.4},{"k":4.4,"a":3.3},{"k":4.4,"a":3.2},{"k":4.4,"a":3.1},{"k":4.4,"a":3},{"k":4.4,"a":2.9},{"k":4.4,"a":2.8},{"k":4.4,"a":2.7},{"k":4.4,"a":2.6},{"k":4.4,"a":2.5},{"k":4.4,"a":2.4},{"k":4.4,"a":2.3},{"k":4.4,"a":2.2},{"k":4.4,"a":2.1},{"k":4.4,"a":2},{"k":4.4,"a":1.9},{"k":4.4,"a":1.8},{"k":4.4,"a":1.7},{"k":4.4,"a":1.6},{"k":4.4,"a":1.5},{"k":4.4,"a":1.4},{"k":4.4,"a":1.3},{"k":4.4,"a":1.2},{"k":4.4,"a":-1.2},{"k":4.4,"a":-1.3},{"k":4.4,"a":-1.4},{"k":4.4,"a":-1.5},{"k":4.4,"a":-1.6},{"k":4.4,"a":-1.7},{"k":4.4,"a":-1.8},{"k":4.4,"a":-1.9},{"k":4.4,"a":-2},{"k":4.4,"a":-2.1},{"k":4.4,"a":-2.2},{"k":4.4,"a":-2.3},{"k":4.4,"a":-2.4},{"k":4.4,"a":-2.5},{"k":4.4,"a":-2.6},{"k":4.4,"a":-2.7},{"k":4.4,"a":-2.8},{"k":4.4,"a":-2.9},{"k":4.4,"a":-3},{"k":4.4,"a":-3.1},{"k":4.4,"a":-3.2},{"k":4.4,"a":-3.3},{"k":4.4,"a":-3.4},{"k":4.4,"a":-3.5},{"k":4.4,"a":-3.6},{"k":4.4,"a":-3.7},{"k":4.4,"a":-3.8},
{"k":4.6,"a":4},{"k":4.6,"a":3.9},{"k":4.6,"a":3.8},{"k":4.6,"a":3.7},{"k":4.6,"a":3.6},{"k":4.6,"a":3.5},{"k":4.6,"a":3.4},{"k":4.6,"a":3.3},{"k":4.6,"a":3.2},{"k":4.6,"a":3.1},{"k":4.6,"a":3},{"k":4.6,"a":2.9},{"k":4.6,"a":2.8},{"k":4.6,"a":2.7},{"k":4.6,"a":2.6},{"k":4.6,"a":2.5},{"k":4.6,"a":2.4},{"k":4.6,"a":2.3},{"k":4.6,"a":2.2},{"k":4.6,"a":2.1},{"k":4.6,"a":2},{"k":4.6,"a":1.9},{"k":4.6,"a":1.8},{"k":4.6,"a":1.7},{"k":4.6,"a":1.6},{"k":4.6,"a":1.5},{"k":4.6,"a":1.4},{"k":4.6,"a":1.3},{"k":4.6,"a":1.2},{"k":4.6,"a":-1.2},{"k":4.6,"a":-1.3},{"k":4.6,"a":-1.4},{"k":4.6,"a":-1.5},{"k":4.6,"a":-1.6},{"k":4.6,"a":-1.7},{"k":4.6,"a":-1.8},{"k":4.6,"a":-1.9},{"k":4.6,"a":-2},{"k":4.6,"a":-2.1},{"k":4.6,"a":-2.2},{"k":4.6,"a":-2.3},{"k":4.6,"a":-2.4},{"k":4.6,"a":-2.5},{"k":4.6,"a":-2.6},{"k":4.6,"a":-2.7},{"k":4.6,"a":-2.8},{"k":4.6,"a":-2.9},{"k":4.6,"a":-3},{"k":4.6,"a":-3.1},{"k":4.6,"a":-3.2},{"k":4.6,"a":-3.3},{"k":4.6,"a":-3.4},{"k":4.6,"a":-3.5},{"k":4.6,"a":-3.6},{"k":4.6,"a":-3.7},{"k":4.6,"a":-3.8},
{"k":4.8,"a":4},{"k":4.8,"a":3.9},{"k":4.8,"a":3.8},{"k":4.8,"a":3.7},{"k":4.8,"a":3.6},{"k":4.8,"a":3.5},{"k":4.8,"a":3.4},{"k":4.8,"a":3.3},{"k":4.8,"a":3.2},{"k":4.8,"a":3.1},{"k":4.8,"a":3},{"k":4.8,"a":2.9},{"k":4.8,"a":2.8},{"k":4.8,"a":2.7},{"k":4.8,"a":2.6},{"k":4.8,"a":2.5},{"k":4.8,"a":2.4},{"k":4.8,"a":2.3},{"k":4.8,"a":2.2},{"k":4.8,"a":2.1},{"k":4.8,"a":2},{"k":4.8,"a":1.9},{"k":4.8,"a":1.8},{"k":4.8,"a":1.7},{"k":4.8,"a":1.6},{"k":4.8,"a":1.5},{"k":4.8,"a":1.4},{"k":4.8,"a":1.3},{"k":4.8,"a":1.2},{"k":4.8,"a":-1.2},{"k":4.8,"a":-1.3},{"k":4.8,"a":-1.4},{"k":4.8,"a":-1.5},{"k":4.8,"a":-1.6},{"k":4.8,"a":-1.7},{"k":4.8,"a":-1.8},{"k":4.8,"a":-1.9},{"k":4.8,"a":-2},{"k":4.8,"a":-2.1},{"k":4.8,"a":-2.2},{"k":4.8,"a":-2.3},{"k":4.8,"a":-2.4},{"k":4.8,"a":-2.5},{"k":4.8,"a":-2.6},{"k":4.8,"a":-2.7},{"k":4.8,"a":-2.8},{"k":4.8,"a":-2.9},{"k":4.8,"a":-3},{"k":4.8,"a":-3.1},{"k":4.8,"a":-3.2},{"k":4.8,"a":-3.3},{"k":4.8,"a":-3.4},{"k":4.8,"a":-3.5},{"k":4.8,"a":-3.6},{"k":4.8,"a":-3.7},{"k":4.8,"a":-3.8},
{"k":5,"a":4},{"k":5,"a":3.9},{"k":5,"a":3.8},{"k":5,"a":3.7},{"k":5,"a":3.6},{"k":5,"a":3.5},{"k":5,"a":3.4},{"k":5,"a":3.3},{"k":5,"a":3.2},{"k":5,"a":3.1},{"k":5,"a":3},{"k":5,"a":2.9},{"k":5,"a":2.8},{"k":5,"a":2.7},{"k":5,"a":2.6},{"k":5,"a":2.5},{"k":5,"a":2.4},{"k":5,"a":2.3},{"k":5,"a":2.2},{"k":5,"a":2.1},{"k":5,"a":2},{"k":5,"a":1.9},{"k":5,"a":1.8},{"k":5,"a":1.7},{"k":5,"a":1.6},{"k":5,"a":1.5},{"k":5,"a":1.4},{"k":5,"a":1.3},{"k":5,"a":1.2},{"k":5,"a":-1.2},{"k":5,"a":-1.3},{"k":5,"a":-1.4},{"k":5,"a":-1.5},{"k":5,"a":-1.6},{"k":5,"a":-1.7},{"k":5,"a":-1.8},{"k":5,"a":-1.9},{"k":5,"a":-2},{"k":5,"a":-2.1},{"k":5,"a":-2.2},{"k":5,"a":-2.3},{"k":5,"a":-2.4},{"k":5,"a":-2.5},{"k":5,"a":-2.6},{"k":5,"a":-2.7},{"k":5,"a":-2.8},{"k":5,"a":-2.9},{"k":5,"a":-3},{"k":5,"a":-3.1},{"k":5,"a":-3.2},{"k":5,"a":-3.3},{"k":5,"a":-3.4},{"k":5,"a":-3.5},{"k":5,"a":-3.6},{"k":5,"a":-3.7},{"k":5,"a":-3.8},
{"k":5.2,"a":4},{"k":5.2,"a":3.9},{"k":5.2,"a":3.8},{"k":5.2,"a":3.7},{"k":5.2,"a":3.6},{"k":5.2,"a":3.5},{"k":5.2,"a":3.4},{"k":5.2,"a":3.3},{"k":5.2,"a":3.2},{"k":5.2,"a":3.1},{"k":5.2,"a":3},{"k":5.2,"a":2.9},{"k":5.2,"a":2.8},{"k":5.2,"a":2.7},{"k":5.2,"a":2.6},{"k":5.2,"a":2.5},{"k":5.2,"a":2.4},{"k":5.2,"a":2.3},{"k":5.2,"a":2.2},{"k":5.2,"a":2.1},{"k":5.2,"a":2},{"k":5.2,"a":1.9},{"k":5.2,"a":1.8},{"k":5.2,"a":1.7},{"k":5.2,"a":1.6},{"k":5.2,"a":1.5},{"k":5.2,"a":1.4},{"k":5.2,"a":1.3},{"k":5.2,"a":1.2},{"k":5.2,"a":-1.2},{"k":5.2,"a":-1.3},{"k":5.2,"a":-1.4},{"k":5.2,"a":-1.5},{"k":5.2,"a":-1.6},{"k":5.2,"a":-1.7},{"k":5.2,"a":-1.8},{"k":5.2,"a":-1.9},{"k":5.2,"a":-2},{"k":5.2,"a":-2.1},{"k":5.2,"a":-2.2},{"k":5.2,"a":-2.3},{"k":5.2,"a":-2.4},{"k":5.2,"a":-2.5},{"k":5.2,"a":-2.6},{"k":5.2,"a":-2.7},{"k":5.2,"a":-2.8},{"k":5.2,"a":-2.9},{"k":5.2,"a":-3},{"k":5.2,"a":-3.1},{"k":5.2,"a":-3.2},{"k":5.2,"a":-3.3},{"k":5.2,"a":-3.4},{"k":5.2,"a":-3.5},{"k":5.2,"a":-3.6},{"k":5.2,"a":-3.7},{"k":5.2,"a":-3.8},
{"k":5.4,"a":4},{"k":5.4,"a":3.9},{"k":5.4,"a":3.8},{"k":5.4,"a":3.7},{"k":5.4,"a":3.6},{"k":5.4,"a":3.5},{"k":5.4,"a":3.4},{"k":5.4,"a":3.3},{"k":5.4,"a":3.2},{"k":5.4,"a":3.1},{"k":5.4,"a":3},{"k":5.4,"a":2.9},{"k":5.4,"a":2.8},{"k":5.4,"a":2.7},{"k":5.4,"a":2.6},{"k":5.4,"a":2.5},{"k":5.4,"a":2.4},{"k":5.4,"a":2.3},{"k":5.4,"a":2.2},{"k":5.4,"a":2.1},{"k":5.4,"a":2},{"k":5.4,"a":1.9},{"k":5.4,"a":1.8},{"k":5.4,"a":1.7},{"k":5.4,"a":1.6},{"k":5.4,"a":1.5},{"k":5.4,"a":1.4},{"k":5.4,"a":1.3},{"k":5.4,"a":1.2},{"k":5.4,"a":-1.2},{"k":5.4,"a":-1.3},{"k":5.4,"a":-1.4},{"k":5.4,"a":-1.5},{"k":5.4,"a":-1.6},{"k":5.4,"a":-1.7},{"k":5.4,"a":-1.8},{"k":5.4,"a":-1.9},{"k":5.4,"a":-2},{"k":5.4,"a":-2.1},{"k":5.4,"a":-2.2},{"k":5.4,"a":-2.3},{"k":5.4,"a":-2.4},{"k":5.4,"a":-2.5},{"k":5.4,"a":-2.6},{"k":5.4,"a":-2.7},{"k":5.4,"a":-2.8},{"k":5.4,"a":-2.9},{"k":5.4,"a":-3},{"k":5.4,"a":-3.1},{"k":5.4,"a":-3.2},{"k":5.4,"a":-3.3},{"k":5.4,"a":-3.4},{"k":5.4,"a":-3.5},{"k":5.4,"a":-3.6},{"k":5.4,"a":-3.7},{"k":5.4,"a":-3.8},
{"k":5.6,"a":4},{"k":5.6,"a":3.9},{"k":5.6,"a":3.8},{"k":5.6,"a":3.7},{"k":5.6,"a":3.6},{"k":5.6,"a":3.5},{"k":5.6,"a":3.4},{"k":5.6,"a":3.3},{"k":5.6,"a":3.2},{"k":5.6,"a":3.1},{"k":5.6,"a":3},{"k":5.6,"a":2.9},{"k":5.6,"a":2.8},{"k":5.6,"a":2.7},{"k":5.6,"a":2.6},{"k":5.6,"a":2.5},{"k":5.6,"a":2.4},{"k":5.6,"a":2.3},{"k":5.6,"a":2.2},{"k":5.6,"a":2.1},{"k":5.6,"a":2},{"k":5.6,"a":1.9},{"k":5.6,"a":1.8},{"k":5.6,"a":1.7},{"k":5.6,"a":1.6},{"k":5.6,"a":1.5},{"k":5.6,"a":1.4},{"k":5.6,"a":1.3},{"k":5.6,"a":1.2},{"k":5.6,"a":-1.2},{"k":5.6,"a":-1.3},{"k":5.6,"a":-1.4},{"k":5.6,"a":-1.5},{"k":5.6,"a":-1.6},{"k":5.6,"a":-1.7},{"k":5.6,"a":-1.8},{"k":5.6,"a":-1.9},{"k":5.6,"a":-2},{"k":5.6,"a":-2.1},{"k":5.6,"a":-2.2},{"k":5.6,"a":-2.3},{"k":5.6,"a":-2.4},{"k":5.6,"a":-2.5},{"k":5.6,"a":-2.6},{"k":5.6,"a":-2.7},{"k":5.6,"a":-2.8},{"k":5.6,"a":-2.9},{"k":5.6,"a":-3},{"k":5.6,"a":-3.1},{"k":5.6,"a":-3.2},{"k":5.6,"a":-3.3},{"k":5.6,"a":-3.4},{"k":5.6,"a":-3.5},{"k":5.6,"a":-3.6},{"k":5.6,"a":-3.7},{"k":5.6,"a":-3.8},
{"k":5.8,"a":4},{"k":5.8,"a":3.9},{"k":5.8,"a":3.8},{"k":5.8,"a":3.7},{"k":5.8,"a":3.6},{"k":5.8,"a":3.5},{"k":5.8,"a":3.4},{"k":5.8,"a":3.3},{"k":5.8,"a":3.2},{"k":5.8,"a":3.1},{"k":5.8,"a":3},{"k":5.8,"a":2.9},{"k":5.8,"a":2.8},{"k":5.8,"a":2.7},{"k":5.8,"a":2.6},{"k":5.8,"a":2.5},{"k":5.8,"a":2.4},{"k":5.8,"a":2.3},{"k":5.8,"a":2.2},{"k":5.8,"a":2.1},{"k":5.8,"a":2},{"k":5.8,"a":1.9},{"k":5.8,"a":1.8},{"k":5.8,"a":1.7},{"k":5.8,"a":1.6},{"k":5.8,"a":1.5},{"k":5.8,"a":1.4},{"k":5.8,"a":1.3},{"k":5.8,"a":1.2},{"k":5.8,"a":-1.2},{"k":5.8,"a":-1.3},{"k":5.8,"a":-1.4},{"k":5.8,"a":-1.5},{"k":5.8,"a":-1.6},{"k":5.8,"a":-1.7},{"k":5.8,"a":-1.8},{"k":5.8,"a":-1.9},{"k":5.8,"a":-2},{"k":5.8,"a":-2.1},{"k":5.8,"a":-2.2},{"k":5.8,"a":-2.3},{"k":5.8,"a":-2.4},{"k":5.8,"a":-2.5},{"k":5.8,"a":-2.6},{"k":5.8,"a":-2.7},{"k":5.8,"a":-2.8},{"k":5.8,"a":-2.9},{"k":5.8,"a":-3},{"k":5.8,"a":-3.1},{"k":5.8,"a":-3.2},{"k":5.8,"a":-3.3},{"k":5.8,"a":-3.4},{"k":5.8,"a":-3.5},{"k":5.8,"a":-3.6},{"k":5.8,"a":-3.7},{"k":5.8,"a":-3.8},
{"k":6,"a":4},{"k":6,"a":3.9},{"k":6,"a":3.8},{"k":6,"a":3.7},{"k":6,"a":3.6},{"k":6,"a":3.5},{"k":6,"a":3.4},{"k":6,"a":3.3},{"k":6,"a":3.2},{"k":6,"a":3.1},{"k":6,"a":3},{"k":6,"a":2.9},{"k":6,"a":2.8},{"k":6,"a":2.7},{"k":6,"a":2.6},{"k":6,"a":2.5},{"k":6,"a":2.4},{"k":6,"a":2.3},{"k":6,"a":2.2},{"k":6,"a":2.1},{"k":6,"a":2},{"k":6,"a":1.9},{"k":6,"a":1.8},{"k":6,"a":1.7},{"k":6,"a":1.6},{"k":6,"a":1.5},{"k":6,"a":1.4},{"k":6,"a":1.3},{"k":6,"a":1.2},{"k":6,"a":-1.2},{"k":6,"a":-1.3},{"k":6,"a":-1.4},{"k":6,"a":-1.5},{"k":6,"a":-1.6},{"k":6,"a":-1.7},{"k":6,"a":-1.8},{"k":6,"a":-1.9},{"k":6,"a":-2},{"k":6,"a":-2.1},{"k":6,"a":-2.2},{"k":6,"a":-2.3},{"k":6,"a":-2.4},{"k":6,"a":-2.5},{"k":6,"a":-2.6},{"k":6,"a":-2.7},{"k":6,"a":-2.8},{"k":6,"a":-2.9},{"k":6,"a":-3},{"k":6,"a":-3.1},{"k":6,"a":-3.2},{"k":6,"a":-3.3},{"k":6,"a":-3.4},{"k":6,"a":-3.5},{"k":6,"a":-3.6},{"k":6,"a":-3.7},{"k":6,"a":-3.8},
{"k":6.2,"a":4},{"k":6.2,"a":3.9},{"k":6.2,"a":3.8},{"k":6.2,"a":3.7},{"k":6.2,"a":3.6},{"k":6.2,"a":3.5},{"k":6.2,"a":3.4},{"k":6.2,"a":3.3},{"k":6.2,"a":3.2},{"k":6.2,"a":3.1},{"k":6.2,"a":3},{"k":6.2,"a":2.9},{"k":6.2,"a":2.8},{"k":6.2,"a":2.7},{"k":6.2,"a":2.6},{"k":6.2,"a":2.5},{"k":6.2,"a":2.4},{"k":6.2,"a":2.3},{"k":6.2,"a":2.2},{"k":6.2,"a":2.1},{"k":6.2,"a":2},{"k":6.2,"a":1.9},{"k":6.2,"a":1.8},{"k":6.2,"a":1.7},{"k":6.2,"a":1.6},{"k":6.2,"a":1.5},{"k":6.2,"a":1.4},{"k":6.2,"a":1.3},{"k":6.2,"a":1.2},{"k":6.2,"a":-1.2},{"k":6.2,"a":-1.3},{"k":6.2,"a":-1.4},{"k":6.2,"a":-1.5},{"k":6.2,"a":-1.6},{"k":6.2,"a":-1.7},{"k":6.2,"a":-1.8},{"k":6.2,"a":-1.9},{"k":6.2,"a":-2},{"k":6.2,"a":-2.1},{"k":6.2,"a":-2.2},{"k":6.2,"a":-2.3},{"k":6.2,"a":-2.4},{"k":6.2,"a":-2.5},{"k":6.2,"a":-2.6},{"k":6.2,"a":-2.7},{"k":6.2,"a":-2.8},{"k":6.2,"a":-2.9},{"k":6.2,"a":-3},{"k":6.2,"a":-3.1},{"k":6.2,"a":-3.2},{"k":6.2,"a":-3.3},{"k":6.2,"a":-3.4},{"k":6.2,"a":-3.5},{"k":6.2,"a":-3.6},{"k":6.2,"a":-3.7},{"k":6.2,"a":-3.8},
{"k":6.4,"a":4},{"k":6.4,"a":3.9},{"k":6.4,"a":3.8},{"k":6.4,"a":3.7},{"k":6.4,"a":3.6},{"k":6.4,"a":3.5},{"k":6.4,"a":3.4},{"k":6.4,"a":3.3},{"k":6.4,"a":3.2},{"k":6.4,"a":3.1},{"k":6.4,"a":3},{"k":6.4,"a":2.9},{"k":6.4,"a":2.8},{"k":6.4,"a":2.7},{"k":6.4,"a":2.6},{"k":6.4,"a":2.5},{"k":6.4,"a":2.4},{"k":6.4,"a":2.3},{"k":6.4,"a":2.2},{"k":6.4,"a":2.1},{"k":6.4,"a":2},{"k":6.4,"a":1.9},{"k":6.4,"a":1.8},{"k":6.4,"a":1.7},{"k":6.4,"a":1.6},{"k":6.4,"a":1.5},{"k":6.4,"a":1.4},{"k":6.4,"a":1.3},{"k":6.4,"a":1.2},{"k":6.4,"a":-1.2},{"k":6.4,"a":-1.3},{"k":6.4,"a":-1.4},{"k":6.4,"a":-1.5},{"k":6.4,"a":-1.6},{"k":6.4,"a":-1.7},{"k":6.4,"a":-1.8},{"k":6.4,"a":-1.9},{"k":6.4,"a":-2},{"k":6.4,"a":-2.1},{"k":6.4,"a":-2.2},{"k":6.4,"a":-2.3},{"k":6.4,"a":-2.4},{"k":6.4,"a":-2.5},{"k":6.4,"a":-2.6},{"k":6.4,"a":-2.7},{"k":6.4,"a":-2.8},{"k":6.4,"a":-2.9},{"k":6.4,"a":-3},{"k":6.4,"a":-3.1},{"k":6.4,"a":-3.2},{"k":6.4,"a":-3.3},{"k":6.4,"a":-3.4},{"k":6.4,"a":-3.5},{"k":6.4,"a":-3.6},{"k":6.4,"a":-3.7},{"k":6.4,"a":-3.8},
{"k":6.6,"a":4},{"k":6.6,"a":3.9},{"k":6.6,"a":3.8},{"k":6.6,"a":3.7},{"k":6.6,"a":3.6},{"k":6.6,"a":3.5},{"k":6.6,"a":3.4},{"k":6.6,"a":3.3},{"k":6.6,"a":3.2},{"k":6.6,"a":3.1},{"k":6.6,"a":3},{"k":6.6,"a":2.9},{"k":6.6,"a":2.8},{"k":6.6,"a":2.7},{"k":6.6,"a":2.6},{"k":6.6,"a":2.5},{"k":6.6,"a":2.4},{"k":6.6,"a":2.3},{"k":6.6,"a":2.2},{"k":6.6,"a":2.1},{"k":6.6,"a":2},{"k":6.6,"a":1.9},{"k":6.6,"a":1.8},{"k":6.6,"a":1.7},{"k":6.6,"a":1.6},{"k":6.6,"a":1.5},{"k":6.6,"a":1.4},{"k":6.6,"a":1.3},{"k":6.6,"a":1.2},{"k":6.6,"a":-1.2},{"k":6.6,"a":-1.3},{"k":6.6,"a":-1.4},{"k":6.6,"a":-1.5},{"k":6.6,"a":-1.6},{"k":6.6,"a":-1.7},{"k":6.6,"a":-1.8},{"k":6.6,"a":-1.9},{"k":6.6,"a":-2},{"k":6.6,"a":-2.1},{"k":6.6,"a":-2.2},{"k":6.6,"a":-2.3},{"k":6.6,"a":-2.4},{"k":6.6,"a":-2.5},{"k":6.6,"a":-2.6},{"k":6.6,"a":-2.7},{"k":6.6,"a":-2.8},{"k":6.6,"a":-2.9},{"k":6.6,"a":-3},{"k":6.6,"a":-3.1},{"k":6.6,"a":-3.2},{"k":6.6,"a":-3.3},{"k":6.6,"a":-3.4},{"k":6.6,"a":-3.5},{"k":6.6,"a":-3.6},{"k":6.6,"a":-3.7},{"k":6.6,"a":-3.8},
{"k":6.8,"a":4},{"k":6.8,"a":3.9},{"k":6.8,"a":3.8},{"k":6.8,"a":3.7},{"k":6.8,"a":3.6},{"k":6.8,"a":3.5},{"k":6.8,"a":3.4},{"k":6.8,"a":3.3},{"k":6.8,"a":3.2},{"k":6.8,"a":3.1},{"k":6.8,"a":3},{"k":6.8,"a":2.9},{"k":6.8,"a":2.8},{"k":6.8,"a":2.7},{"k":6.8,"a":2.6},{"k":6.8,"a":2.5},{"k":6.8,"a":2.4},{"k":6.8,"a":2.3},{"k":6.8,"a":2.2},{"k":6.8,"a":2.1},{"k":6.8,"a":2},{"k":6.8,"a":1.9},{"k":6.8,"a":1.8},{"k":6.8,"a":1.7},{"k":6.8,"a":1.6},{"k":6.8,"a":1.5},{"k":6.8,"a":1.4},{"k":6.8,"a":1.3},{"k":6.8,"a":1.2},{"k":6.8,"a":-1.2},{"k":6.8,"a":-1.3},{"k":6.8,"a":-1.4},{"k":6.8,"a":-1.5},{"k":6.8,"a":-1.6},{"k":6.8,"a":-1.7},{"k":6.8,"a":-1.8},{"k":6.8,"a":-1.9},{"k":6.8,"a":-2},{"k":6.8,"a":-2.1},{"k":6.8,"a":-2.2},{"k":6.8,"a":-2.3},{"k":6.8,"a":-2.4},{"k":6.8,"a":-2.5},{"k":6.8,"a":-2.6},{"k":6.8,"a":-2.7},{"k":6.8,"a":-2.8},{"k":6.8,"a":-2.9},{"k":6.8,"a":-3},{"k":6.8,"a":-3.1},{"k":6.8,"a":-3.2},{"k":6.8,"a":-3.3},{"k":6.8,"a":-3.4},{"k":6.8,"a":-3.5},{"k":6.8,"a":-3.6},{"k":6.8,"a":-3.7},{"k":6.8,"a":-3.8},
{"k":7,"a":4},{"k":7,"a":3.9},{"k":7,"a":3.8},{"k":7,"a":3.7},{"k":7,"a":3.6},{"k":7,"a":3.5},{"k":7,"a":3.4},{"k":7,"a":3.3},{"k":7,"a":3.2},{"k":7,"a":3.1},{"k":7,"a":3},{"k":7,"a":2.9},{"k":7,"a":2.8},{"k":7,"a":2.7},{"k":7,"a":2.6},{"k":7,"a":2.5},{"k":7,"a":2.4},{"k":7,"a":2.3},{"k":7,"a":2.2},{"k":7,"a":2.1},{"k":7,"a":2},{"k":7,"a":1.9},{"k":7,"a":1.8},{"k":7,"a":1.7},{"k":7,"a":1.6},{"k":7,"a":1.5},{"k":7,"a":1.4},{"k":7,"a":1.3},{"k":7,"a":1.2},{"k":7,"a":-1.2},{"k":7,"a":-1.3},{"k":7,"a":-1.4},{"k":7,"a":-1.5},{"k":7,"a":-1.6},{"k":7,"a":-1.7},{"k":7,"a":-1.8},{"k":7,"a":-1.9},{"k":7,"a":-2},{"k":7,"a":-2.1},{"k":7,"a":-2.2},{"k":7,"a":-2.3},{"k":7,"a":-2.4},{"k":7,"a":-2.5},{"k":7,"a":-2.6},{"k":7,"a":-2.7},{"k":7,"a":-2.8},{"k":7,"a":-2.9},{"k":7,"a":-3},{"k":7,"a":-3.1},{"k":7,"a":-3.2},{"k":7,"a":-3.3},{"k":7,"a":-3.4},{"k":7,"a":-3.5},{"k":7,"a":-3.6},{"k":7,"a":-3.7},{"k":7,"a":-3.8},
{"k":7.2,"a":4},{"k":7.2,"a":3.9},{"k":7.2,"a":3.8},{"k":7.2,"a":3.7},{"k":7.2,"a":3.6},{"k":7.2,"a":3.5},{"k":7.2,"a":3.4},{"k":7.2,"a":3.3},{"k":7.2,"a":3.2},{"k":7.2,"a":3.1},{"k":7.2,"a":3},{"k":7.2,"a":2.9},{"k":7.2,"a":2.8},{"k":7.2,"a":2.7},{"k":7.2,"a":2.6},{"k":7.2,"a":2.5},{"k":7.2,"a":2.4},{"k":7.2,"a":2.3},{"k":7.2,"a":2.2},{"k":7.2,"a":2.1},{"k":7.2,"a":2},{"k":7.2,"a":1.9},{"k":7.2,"a":1.8},{"k":7.2,"a":1.7},{"k":7.2,"a":1.6},{"k":7.2,"a":1.5},{"k":7.2,"a":1.4},{"k":7.2,"a":1.3},{"k":7.2,"a":1.2},{"k":7.2,"a":-1.2},{"k":7.2,"a":-1.3},{"k":7.2,"a":-1.4},{"k":7.2,"a":-1.5},{"k":7.2,"a":-1.6},{"k":7.2,"a":-1.7},{"k":7.2,"a":-1.8},{"k":7.2,"a":-1.9},{"k":7.2,"a":-2},{"k":7.2,"a":-2.1},{"k":7.2,"a":-2.2},{"k":7.2,"a":-2.3},{"k":7.2,"a":-2.4},{"k":7.2,"a":-2.5},{"k":7.2,"a":-2.6},{"k":7.2,"a":-2.7},{"k":7.2,"a":-2.8},{"k":7.2,"a":-2.9},{"k":7.2,"a":-3},{"k":7.2,"a":-3.1},{"k":7.2,"a":-3.2},{"k":7.2,"a":-3.3},{"k":7.2,"a":-3.4},{"k":7.2,"a":-3.5},{"k":7.2,"a":-3.6},{"k":7.2,"a":-3.7},{"k":7.2,"a":-3.8},
{"k":7.4,"a":4},{"k":7.4,"a":3.9},{"k":7.4,"a":3.8},{"k":7.4,"a":3.7},{"k":7.4,"a":3.6},{"k":7.4,"a":3.5},{"k":7.4,"a":3.4},{"k":7.4,"a":3.3},{"k":7.4,"a":3.2},{"k":7.4,"a":3.1},{"k":7.4,"a":3},{"k":7.4,"a":2.9},{"k":7.4,"a":2.8},{"k":7.4,"a":2.7},{"k":7.4,"a":2.6},{"k":7.4,"a":2.5},{"k":7.4,"a":2.4},{"k":7.4,"a":2.3},{"k":7.4,"a":2.2},{"k":7.4,"a":2.1},{"k":7.4,"a":2},{"k":7.4,"a":1.9},{"k":7.4,"a":1.8},{"k":7.4,"a":1.7},{"k":7.4,"a":1.6},{"k":7.4,"a":1.5},{"k":7.4,"a":1.4},{"k":7.4,"a":1.3},{"k":7.4,"a":1.2},{"k":7.4,"a":-1.2},{"k":7.4,"a":-1.3},{"k":7.4,"a":-1.4},{"k":7.4,"a":-1.5},{"k":7.4,"a":-1.6},{"k":7.4,"a":-1.7},{"k":7.4,"a":-1.8},{"k":7.4,"a":-1.9},{"k":7.4,"a":-2},{"k":7.4,"a":-2.1},{"k":7.4,"a":-2.2},{"k":7.4,"a":-2.3},{"k":7.4,"a":-2.4},{"k":7.4,"a":-2.5},{"k":7.4,"a":-2.6},{"k":7.4,"a":-2.7},{"k":7.4,"a":-2.8},{"k":7.4,"a":-2.9},{"k":7.4,"a":-3},{"k":7.4,"a":-3.1},{"k":7.4,"a":-3.2},{"k":7.4,"a":-3.3},{"k":7.4,"a":-3.4},{"k":7.4,"a":-3.5},{"k":7.4,"a":-3.6},{"k":7.4,"a":-3.7},{"k":7.4,"a":-3.8},
{"k":7.6,"a":4},{"k":7.6,"a":3.9},{"k":7.6,"a":3.8},{"k":7.6,"a":3.7},{"k":7.6,"a":3.6},{"k":7.6,"a":3.5},{"k":7.6,"a":3.4},{"k":7.6,"a":3.3},{"k":7.6,"a":3.2},{"k":7.6,"a":3.1},{"k":7.6,"a":3},{"k":7.6,"a":2.9},{"k":7.6,"a":2.8},{"k":7.6,"a":2.7},{"k":7.6,"a":2.6},{"k":7.6,"a":2.5},{"k":7.6,"a":2.4},{"k":7.6,"a":2.3},{"k":7.6,"a":2.2},{"k":7.6,"a":2.1},{"k":7.6,"a":2},{"k":7.6,"a":1.9},{"k":7.6,"a":1.8},{"k":7.6,"a":1.7},{"k":7.6,"a":1.6},{"k":7.6,"a":1.5},{"k":7.6,"a":1.4},{"k":7.6,"a":1.3},{"k":7.6,"a":1.2},{"k":7.6,"a":-1.2},{"k":7.6,"a":-1.3},{"k":7.6,"a":-1.4},{"k":7.6,"a":-1.5},{"k":7.6,"a":-1.6},{"k":7.6,"a":-1.7},{"k":7.6,"a":-1.8},{"k":7.6,"a":-1.9},{"k":7.6,"a":-2},{"k":7.6,"a":-2.1},{"k":7.6,"a":-2.2},{"k":7.6,"a":-2.3},{"k":7.6,"a":-2.4},{"k":7.6,"a":-2.5},{"k":7.6,"a":-2.6},{"k":7.6,"a":-2.7},{"k":7.6,"a":-2.8},{"k":7.6,"a":-2.9},{"k":7.6,"a":-3},{"k":7.6,"a":-3.1},{"k":7.6,"a":-3.2},{"k":7.6,"a":-3.3},{"k":7.6,"a":-3.4},{"k":7.6,"a":-3.5},{"k":7.6,"a":-3.6},{"k":7.6,"a":-3.7},{"k":7.6,"a":-3.8},
{"k":7.8,"a":4},{"k":7.8,"a":3.9},{"k":7.8,"a":3.8},{"k":7.8,"a":3.7},{"k":7.8,"a":3.6},{"k":7.8,"a":3.5},{"k":7.8,"a":3.4},{"k":7.8,"a":3.3},{"k":7.8,"a":3.2},{"k":7.8,"a":3.1},{"k":7.8,"a":3},{"k":7.8,"a":2.9},{"k":7.8,"a":2.8},{"k":7.8,"a":2.7},{"k":7.8,"a":2.6},{"k":7.8,"a":2.5},{"k":7.8,"a":2.4},{"k":7.8,"a":2.3},{"k":7.8,"a":2.2},{"k":7.8,"a":2.1},{"k":7.8,"a":2},{"k":7.8,"a":1.9},{"k":7.8,"a":1.8},{"k":7.8,"a":1.7},{"k":7.8,"a":1.6},{"k":7.8,"a":1.5},{"k":7.8,"a":1.4},{"k":7.8,"a":1.3},{"k":7.8,"a":1.2},{"k":7.8,"a":-1.2},{"k":7.8,"a":-1.3},{"k":7.8,"a":-1.4},{"k":7.8,"a":-1.5},{"k":7.8,"a":-1.6},{"k":7.8,"a":-1.7},{"k":7.8,"a":-1.8},{"k":7.8,"a":-1.9},{"k":7.8,"a":-2},{"k":7.8,"a":-2.1},{"k":7.8,"a":-2.2},{"k":7.8,"a":-2.3},{"k":7.8,"a":-2.4},{"k":7.8,"a":-2.5},{"k":7.8,"a":-2.6},{"k":7.8,"a":-2.7},{"k":7.8,"a":-2.8},{"k":7.8,"a":-2.9},{"k":7.8,"a":-3},{"k":7.8,"a":-3.1},{"k":7.8,"a":-3.2},{"k":7.8,"a":-3.3},{"k":7.8,"a":-3.4},{"k":7.8,"a":-3.5},{"k":7.8,"a":-3.6},{"k":7.8,"a":-3.7},{"k":7.8,"a":-3.8},
{"k":8,"a":4},{"k":8,"a":3.9},{"k":8,"a":3.8},{"k":8,"a":3.7},{"k":8,"a":3.6},{"k":8,"a":3.5},{"k":8,"a":3.4},{"k":8,"a":3.3},{"k":8,"a":3.2},{"k":8,"a":3.1},{"k":8,"a":3},{"k":8,"a":2.9},{"k":8,"a":2.8},{"k":8,"a":2.7},{"k":8,"a":2.6},{"k":8,"a":2.5},{"k":8,"a":2.4},{"k":8,"a":2.3},{"k":8,"a":2.2},{"k":8,"a":2.1},{"k":8,"a":2},{"k":8,"a":1.9},{"k":8,"a":1.8},{"k":8,"a":1.7},{"k":8,"a":1.6},{"k":8,"a":1.5},{"k":8,"a":1.4},{"k":8,"a":1.3},{"k":8,"a":1.2},{"k":8,"a":-1.2},{"k":8,"a":-1.3},{"k":8,"a":-1.4},{"k":8,"a":-1.5},{"k":8,"a":-1.6},{"k":8,"a":-1.7},{"k":8,"a":-1.8},{"k":8,"a":-1.9},{"k":8,"a":-2},{"k":8,"a":-2.1},{"k":8,"a":-2.2},{"k":8,"a":-2.3},{"k":8,"a":-2.4},{"k":8,"a":-2.5},{"k":8,"a":-2.6},{"k":8,"a":-2.7},{"k":8,"a":-2.8},{"k":8,"a":-2.9},{"k":8,"a":-3},{"k":8,"a":-3.1},{"k":8,"a":-3.2},{"k":8,"a":-3.3},{"k":8,"a":-3.4},{"k":8,"a":-3.5},{"k":8,"a":-3.6},{"k":8,"a":-3.7},{"k":8,"a":-3.8},
{"k":0.2,"a":-3.9},{"k":0.4,"a":-3.9},{"k":0.8,"a":-3.9},{"k":1,"a":-3.9},{"k":1.2,"a":-3.9},{"k":1.4,"a":-3.9},{"k":1.6,"a":-3.9},{"k":1.8,"a":-3.9},{"k":2,"a":-3.9},{"k":2.2,"a":-3.9},{"k":2.4,"a":-3.9},{"k":2.6,"a":-3.9},{"k":2.8,"a":-3.9},{"k":3,"a":-3.9},{"k":3.2,"a":-3.9},{"k":3.4,"a":-3.9},{"k":3.6,"a":-3.9},{"k":3.8,"a":-3.9},{"k":4,"a":-3.9},{"k":4.2,"a":-3.9},{"k":4.4,"a":-3.9},{"k":4.6,"a":-3.9},{"k":4.8,"a":-3.9},{"k":5,"a":-3.9},{"k":5.2,"a":-3.9},{"k":5.4,"a":-3.9},{"k":5.6,"a":-3.9},{"k":5.8,"a":-3.9},{"k":6,"a":-3.9},{"k":6.2,"a":-3.9},{"k":6.4,"a":-3.9},{"k":6.6,"a":-3.9},{"k":6.8,"a":-3.9},{"k":7,"a":-3.9},{"k":7.2,"a":-3.9},{"k":7.4,"a":-3.9},{"k":7.6,"a":-3.9},{"k":7.8,"a":-3.9},{"k":8,"a":-3.9}
]
},
"layer":[
{"data":{"name":"pts"},
 "mark":{"type":"point","shape":"diamond","filled":false,"stroke":"#2ff02f","strokeWidth":1.5,"size":22,"opacity":1},
 "encoding":{
  "x":{"field":"k","type":"quantitative","scale":{"domain":[-0.5,8],"nice":false,"zero":false},
   "axis":{"orient":"bottom","offset":-186,"values":[1,2,3,4,5,6,7,8],"labelOverlap":false,"grid":false,
    "domainColor":"#888888","domainWidth":2,"tickColor":"#555555","tickWidth":1,"tickSize":6,
    "labelFont":"Liberation Serif, Times New Roman, DejaVu Serif, serif","labelFontSize":16,"labelColor":"black","labelPadding":2,"labelFlush":false,
    "title":"k","titleFont":"Liberation Serif, Times New Roman, DejaVu Serif, serif","titleFontStyle":"italic","titleFontWeight":"bold","titleFontSize":19,"titleColor":"black",
    "titleX":220,"titleY":36,"titleBaseline":"middle","titleAlign":"center"}},
  "y":{"field":"a","type":"quantitative","scale":{"domain":[-4,4],"nice":false,"zero":false},
   "axis":{"orient":"left","offset":-21.5,"values":[-4,-3,-2,-1,1,2,3,4],"labelOverlap":false,"grid":false,
    "domainColor":"#888888","domainWidth":2,"tickColor":"#555555","tickWidth":1,"tickSize":6,
    "labelFont":"Liberation Serif, Times New Roman, DejaVu Serif, serif","labelFontSize":16,"labelColor":"black","labelPadding":2,"labelFlush":false,
    "title":"ã₂","titleFont":"Liberation Serif, Times New Roman, DejaVu Serif, serif","titleFontStyle":"italic","titleFontWeight":"bold","titleFontSize":20,"titleColor":"black",
    "titleAngle":0,"titleX":-27,"titleY":85,"titleBaseline":"middle","titleAlign":"center"}}
 }},
{"data":{"name":"curve"},
 "mark":{"type":"line","color":"black","strokeWidth":2.3},
 "encoding":{"x":{"field":"k","type":"quantitative","axis":null},"y":{"field":"a","type":"quantitative","axis":null},"order":{"field":"i","type":"quantitative"}}},
{"data":{"name":"origin"},
 "mark":{"type":"text","dx":-9,"dy":14,"font":"Liberation Serif, Times New Roman, DejaVu Serif, serif","fontSize":16,"color":"black"},
 "encoding":{
  "x":{"field":"k","type":"quantitative",
   "axis":{"orient":"bottom","offset":-186,"values":[-0.5,0.5,1.5,2.5,3.5,4.5,5.5,6.5,7.5],"labels":false,"domain":false,"grid":false,"tickColor":"#555555","tickWidth":1,"tickSize":3,"title":null}},
  "y":{"field":"a","type":"quantitative",
   "axis":{"orient":"left","offset":-21.5,"values":[-3.5,-2.5,-1.5,-0.5,0.5,1.5,2.5,3.5],"labels":false,"domain":false,"grid":false,"tickColor":"#555555","tickWidth":1,"tickSize":3,"title":null}},
  "text":{"field":"t"}}}
]
}
